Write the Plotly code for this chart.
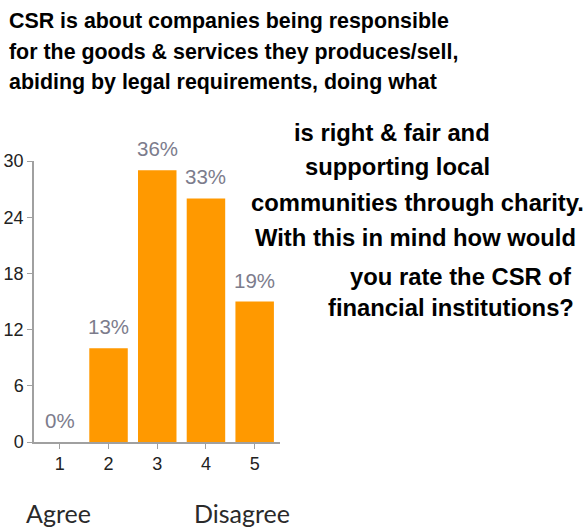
import plotly.graph_objects as go

categories = ["1", "2", "3", "4", "5"]
counts = [0, 10, 29, 26, 15]
pct_labels = ["0%", "13%", "36%", "33%", "19%"]
y_ticks = [0, 6, 12, 18, 24, 30]

title_left = [
    "CSR is about companies being responsible",
    "for the goods & services they produces/sell,",
    "abiding by legal requirements, doing what",
]
title_right = [
    "is right & fair and",
    "supporting local",
    "communities through charity.",
    "With this in mind how would",
    "you rate the CSR of",
    "financial institutions?",
]

W, H = 585, 532
PL, PR, PT, PB = 34, 280, 161, 442


def px(x):
    return (x - PL) / (PR - PL)


def py(y):
    return (PB - y) / (PB - PT)


SANS = "Liberation Sans, Arial"

fig = go.Figure()
fig.add_trace(go.Bar(
    x=[1, 2, 3, 4, 5], y=counts, marker_color="#FF9900",
    marker_line_width=0, width=0.79, hoverinfo="skip",
))

for i, (c, lbl) in enumerate(zip(counts, pct_labels)):
    fig.add_annotation(x=i + 1, y=c, text=lbl, showarrow=False, xref="x", yref="y",
                       yanchor="bottom", yshift=8,
                       font=dict(family=SANS, size=20.5, color="#7c7c8c"))

title_font = dict(family=SANS, size=21.4, color="#000000")
left_y = [21, 52, 82]
for t, yy in zip(title_left, left_y):
    fig.add_annotation(x=px(7), y=py(yy), xref="paper", yref="paper", text="<b>" + t + "</b>",
                       showarrow=False, xanchor="left", yanchor="middle", font=title_font)

right_font = dict(family=SANS, size=23.8, color="#000000")
right_pos = [(392, 132), (397, 166), (417, 202), (415, 237), (460, 276), (451, 307)]
for t, (xx, yy) in zip(title_right, right_pos):
    fig.add_annotation(x=px(xx), y=py(yy), xref="paper", yref="paper", text="<b>" + t + "</b>",
                       showarrow=False, xanchor="center", yanchor="middle", font=right_font)

foot_font = dict(family="Lato, Carlito, sans-serif", size=25, color="#2a2a2a")
fig.add_annotation(x=px(58), y=py(513), xref="paper", yref="paper", text="Agree",
                   showarrow=False, xanchor="center", yanchor="middle", font=foot_font)
fig.add_annotation(x=px(242), y=py(513), xref="paper", yref="paper", text="Disagree",
                   showarrow=False, xanchor="center", yanchor="middle", font=foot_font)

fig.update_layout(
    width=W, height=H,
    margin=dict(l=PL, r=W - PR, t=PT, b=H - PB, autoexpand=False),
    paper_bgcolor="white", plot_bgcolor="white",
    showlegend=False,
)
fig.update_xaxes(
    range=[0.47, 5.52], tickmode="array", tickvals=[1, 2, 3, 4, 5], ticktext=categories,
    showline=True, linecolor="#a0a0a0", linewidth=1.5, ticks="outside", ticklen=5,
    tickcolor="#a0a0a0", showgrid=False, zeroline=False, automargin=False,
    tickfont=dict(family=SANS, size=18, color="#222222"),
)
fig.update_yaxes(
    range=[0, 30], tickmode="array", tickvals=y_ticks,
    showline=True, linecolor="#a0a0a0", linewidth=1.5, ticks="outside", ticklen=5,
    tickcolor="#a0a0a0", showgrid=False, zeroline=False, automargin=False,
    tickfont=dict(family=SANS, size=18, color="#222222"),
)

fig.write_html("out.html", config={"displayModeBar": False},
               post_script="document.body.style.margin='0';")
